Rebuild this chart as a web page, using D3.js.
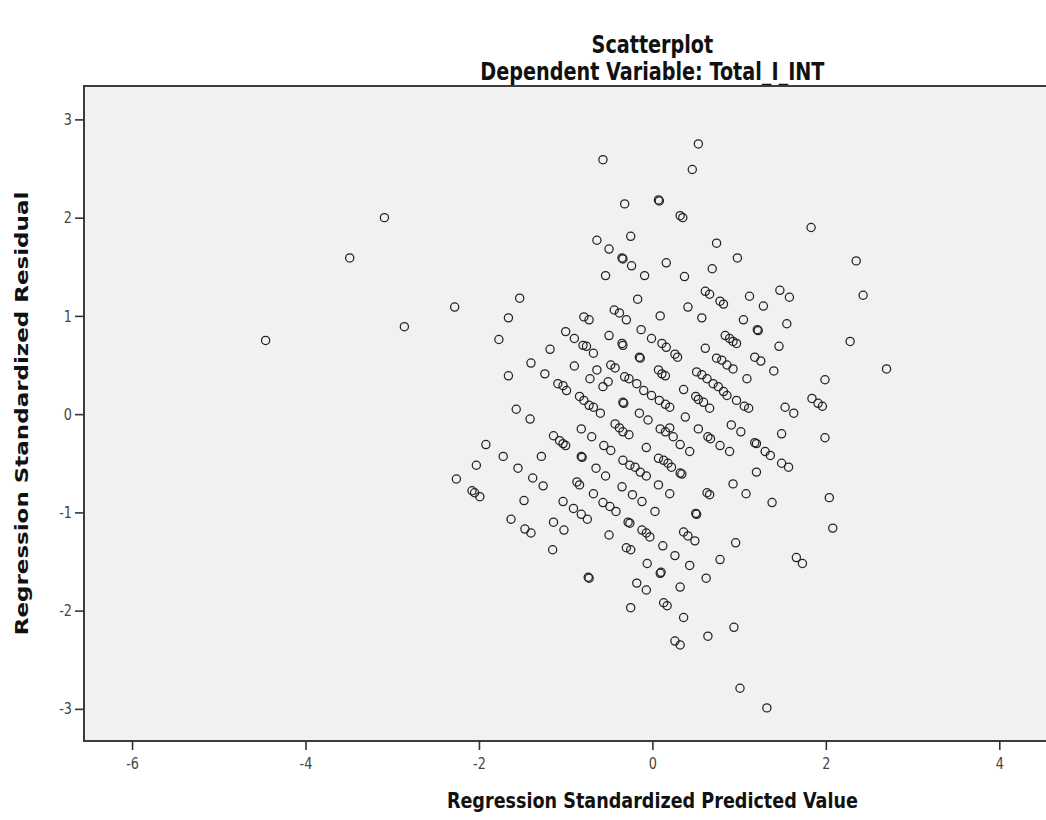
<!DOCTYPE html>
<html><head><meta charset="utf-8">
<script src="https://cdn.jsdelivr.net/npm/d3@7"></script>
<style>body{margin:0;background:#fff;overflow:hidden}</style>
</head><body><svg id="c" width="1046" height="820"></svg>
<script>
const titleText = "Scatterplot";
const subtitleText = "Dependent Variable: Total_I_INT";
const xTitle = "Regression Standardized Predicted Value";
const yTitle = "Regression Standardized Residual";
const xTicks = [-6, -4, -2, 0, 2, 4];
const yTicks = [-3, -2, -1, 0, 1, 2, 3];

// Regression standardized predicted values (x)
const predicted = [
  -4.46,-3.49,-3.09,-2.86,-2.28,-1.53,-1.66,-1.77,-0.79,-0.73,-1.00,-0.90,-0.80,-0.76,-0.68,-1.18,-1.40,-1.24,-1.66,-0.90,-1.09,-1.03,-0.99,-0.72,-0.84,-0.79,-0.73,-1.57,-1.41,-0.68,
  0.53,-0.57,0.46,-0.32,0.07,0.08,0.32,0.35,-0.64,-0.25,0.74,0.98,-0.50,-0.35,-0.34,-0.24,-0.09,0.16,-0.54,0.37,
  0.69,0.61,0.66,0.78,0.82,1.12,-0.17,-0.44,-0.38,-0.30,0.09,0.41,0.57,1.05,1.21,1.22,-0.50,-0.35,-0.34,-0.13,
  -0.01,0.11,0.16,0.26,0.29,0.84,0.89,0.93,0.97,0.61,0.74,0.80,0.86,0.93,-0.15,-0.14,-0.48,-0.43,-0.32,-0.27,
  -0.18,-0.64,-0.57,-0.51,0.07,0.11,0.15,0.51,0.57,0.63,0.70,0.76,0.82,0.86,1.09,-0.10,-0.01,0.08,0.15,0.20,
  0.36,0.50,0.53,0.59,0.66,0.97,1.06,1.11,-0.34,-0.33,-0.60,-0.15,0.38,
  1.83,2.35,2.43,1.47,1.58,1.28,1.55,1.46,2.28,1.18,1.25,1.40,1.99,2.70,1.84,1.91,1.96,1.53,1.63,
  -1.92,-2.03,-2.26,-2.08,-2.05,-1.99,-1.72,-1.55,-1.38,-1.26,-1.28,-1.14,-1.07,-1.03,-1.00,-0.82,-0.70,-0.82,-0.81,-0.65,
  -0.87,-0.84,-0.68,-1.48,-1.03,-0.91,-0.82,-0.75,-1.63,-1.47,-1.40,-1.14,-1.02,-1.15,-0.74,-0.73,
  -0.05,-0.43,-0.38,-0.34,-0.27,0.09,0.15,0.20,0.24,0.32,0.43,0.53,0.64,0.67,0.78,0.89,0.91,1.02,1.18,1.20,
  -0.56,-0.48,-0.07,-0.34,-0.26,-0.20,-0.14,-0.07,0.07,0.13,0.18,0.22,0.32,0.34,-0.54,0.93,1.08,0.63,0.66,-0.35,
  -0.23,-0.12,0.07,0.20,0.03,-0.57,-0.49,-0.42,0.50,0.51,-0.28,-0.26,-0.12,-0.07,-0.03,-0.50,0.36,0.41,0.49,0.12,
  0.26,0.96,-0.30,-0.25,-0.06,0.10,0.09,0.43,0.78,0.62,-0.18,-0.07,0.32,0.13,0.17,-0.25,0.36,0.94,0.64,0.26,
  0.32,1.01,
  1.49,1.99,1.30,1.36,1.49,1.57,1.20,1.38,2.04,2.08,1.66,1.73,1.32
];

// Regression standardized residuals (y)
const residual = [
  0.75,1.59,2.00,0.89,1.09,1.18,0.98,0.76,0.99,0.96,0.84,0.77,0.70,0.69,0.62,0.66,0.52,0.41,0.39,0.49,0.31,0.29,0.24,0.36,0.18,0.14,0.09,0.05,-0.05,0.07,
  2.75,2.59,2.49,2.14,2.18,2.17,2.02,2.00,1.77,1.81,1.74,1.59,1.68,1.59,1.58,1.51,1.41,1.54,1.41,1.40,
  1.48,1.25,1.22,1.15,1.12,1.20,1.17,1.06,1.03,0.96,1.00,1.09,0.98,0.96,0.86,0.85,0.80,0.72,0.70,0.86,
  0.77,0.72,0.68,0.61,0.58,0.80,0.77,0.74,0.72,0.67,0.57,0.55,0.50,0.46,0.58,0.57,0.50,0.47,0.38,0.36,
  0.31,0.45,0.28,0.33,0.45,0.41,0.39,0.43,0.40,0.36,0.31,0.28,0.23,0.19,0.36,0.24,0.19,0.14,0.10,0.07,
  0.25,0.18,0.15,0.12,0.06,0.14,0.08,0.06,0.12,0.11,0.01,0.01,-0.03,
  1.90,1.56,1.21,1.26,1.19,1.10,0.92,0.69,0.74,0.58,0.54,0.44,0.35,0.46,0.16,0.11,0.08,0.07,0.01,
  -0.31,-0.52,-0.66,-0.78,-0.80,-0.84,-0.43,-0.55,-0.65,-0.73,-0.43,-0.22,-0.27,-0.30,-0.32,-0.15,-0.23,-0.43,-0.44,-0.55,
  -0.69,-0.72,-0.81,-0.88,-0.89,-0.96,-1.02,-1.07,-1.07,-1.17,-1.21,-1.10,-1.18,-1.38,-1.66,-1.67,
  -0.06,-0.10,-0.14,-0.18,-0.21,-0.15,-0.18,-0.14,-0.23,-0.31,-0.38,-0.15,-0.23,-0.25,-0.32,-0.38,-0.11,-0.18,-0.29,-0.30,
  -0.32,-0.37,-0.34,-0.47,-0.52,-0.54,-0.59,-0.63,-0.45,-0.47,-0.50,-0.54,-0.60,-0.61,-0.63,-0.71,-0.81,-0.80,-0.82,-0.74,
  -0.82,-0.89,-0.72,-0.81,-0.99,-0.90,-0.94,-0.99,-1.01,-1.02,-1.10,-1.11,-1.18,-1.21,-1.25,-1.23,-1.20,-1.24,-1.29,-1.34,
  -1.44,-1.31,-1.36,-1.38,-1.52,-1.61,-1.62,-1.54,-1.48,-1.67,-1.72,-1.79,-1.76,-1.92,-1.95,-1.97,-2.07,-2.17,-2.26,-2.31,
  -2.35,-2.79,
  -0.20,-0.24,-0.38,-0.42,-0.50,-0.54,-0.59,-0.90,-0.85,-1.16,-1.46,-1.52,-2.99
];

const points = predicted.map((p, i) => ({x: p, y: residual[i]}));

const svg = d3.select("#c");
const L = 84, T = 86, B = 741, R = 1060;
const x = d3.scaleLinear().domain([-6.554, 4.700]).range([L, R]);
const y = d3.scaleLinear().domain([-3.327, 3.340]).range([B, T]);
const cx = x(0);

const font = "'DejaVu Sans', 'Verdana', sans-serif";
const SX = 0.8; // horizontal condensation of the original rendering

function hText(px, py, str, size, weight) {
  svg.append("text").attr("transform", `translate(${px},${py}) scale(${SX},1)`)
    .attr("text-anchor", "middle")
    .style("font-family", font).style("font-weight", weight).style("font-size", size + "px")
    .attr("fill", "#111").text(str);
}

hText(cx, 53, titleText, 24, "bold");
hText(cx, 80, subtitleText, 24, "bold");

// plot frame
svg.append("rect").attr("x", L).attr("y", T).attr("width", R - L).attr("height", B - T)
  .attr("fill", "#f1f1f1").attr("stroke", "#3c3c3c").attr("stroke-width", 2);

const fmt = d => String(d).replace("\u2212", "-");

const xAxis = svg.append("g").attr("transform", `translate(0,${B})`)
  .call(d3.axisBottom(x).tickValues(xTicks).tickSize(9).tickPadding(4).tickFormat(fmt));
const yAxis = svg.append("g").attr("transform", `translate(${L},0)`)
  .call(d3.axisLeft(y).tickValues(yTicks).tickSize(9).tickPadding(3).tickFormat(fmt));
[xAxis, yAxis].forEach(g => {
  g.select(".domain").remove();
  g.selectAll(".tick line").attr("stroke", "#333").attr("stroke-width", 1.6);
  g.selectAll(".tick text").attr("fill", "#444").attr("font-family", null).attr("font-size", null)
    .style("font-family", font).style("font-size", "16px");
});
xAxis.selectAll(".tick text").each(function() {
  const t = d3.select(this);
  const yy = +t.attr("y");
  t.attr("y", null).attr("dy", null)
   .attr("transform", `translate(0,${yy + 15}) scale(${SX},1)`);
});
yAxis.selectAll(".tick text").each(function() {
  const t = d3.select(this);
  const xx = +t.attr("x");
  t.attr("x", null).attr("transform", `translate(${xx},0) scale(${SX},1)`);
});

// points
svg.append("g").selectAll("circle").data(points).join("circle")
  .attr("cx", d => x(d.x)).attr("cy", d => y(d.y)).attr("r", 4.1)
  .attr("fill", "none").attr("stroke", "#222").attr("stroke-width", 1.25);

hText(cx, 808, xTitle, 22, "bold");
svg.append("text").attr("transform", `translate(28,${(T + B) / 2}) rotate(-90) scale(1,${SX})`)
  .attr("text-anchor", "middle")
  .style("font-family", font).style("font-weight", "bold").style("font-size", "23px")
  .attr("fill", "#111").text(yTitle);
</script>
</body></html>
